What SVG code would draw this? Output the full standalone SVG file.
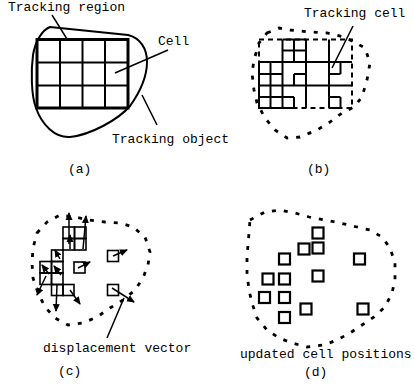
<svg xmlns="http://www.w3.org/2000/svg" width="414" height="391" viewBox="0 0 414 391">
<defs>
<marker id="ah" markerUnits="userSpaceOnUse" markerWidth="8" markerHeight="8" viewBox="0 0 8 8" refX="7" refY="4" orient="auto">
<path d="M0,0.5 L8,4 L0,7.5 Z" fill="#000"/>
</marker>
</defs>
<style>
text{font-family:"Liberation Mono","DejaVu Sans Mono",monospace;font-size:13px;fill:#000;}
.ln{stroke:#000;fill:none;stroke-width:2;}
.thk{stroke:#000;fill:none;stroke-width:3;}
.blob{stroke:#000;fill:none;stroke-width:2;}
.dblob{stroke:#000;fill:none;stroke-width:2.8;stroke-dasharray:4 8;}
.drect{stroke:#000;fill:none;stroke-width:2;stroke-dasharray:5 4;}
.cell{stroke:#000;fill:none;stroke-width:1.6;}
.ucell{stroke:#000;fill:none;stroke-width:2.2;}
.arr{stroke:#000;fill:none;stroke-width:1.5;marker-end:url(#ah);}
.lead{stroke:#000;fill:none;stroke-width:1.5;}
</style>

<!-- Panel (a) -->
<g id="panel-a">
<path class="blob" d="M50,27 L128,35 C140,38 147,48 147,62 C147,78 140,92 130,106 C118,120 90,135 70,137 C55,138 42,125 36,108 C31,95 31,70 33,55 C35,42 42,30 50,27 Z"/>
<g id="tracking-region">
<rect class="thk" x="37" y="39.5" width="91" height="68.5"/>
<line class="ln" x1="60" y1="39.5" x2="60" y2="108"/>
<line class="ln" x1="82.5" y1="39.5" x2="82.5" y2="108"/>
<line class="ln" x1="105" y1="39.5" x2="105" y2="108"/>
<line class="ln" x1="37" y1="62.5" x2="128" y2="62.5"/>
<line class="ln" x1="37" y1="85.5" x2="128" y2="85.5"/>
</g>
<text x="8" y="11">Tracking region</text>
<text x="158" y="45">Cell</text>
<text x="112" y="143">Tracking object</text>
<text x="68" y="173">(a)</text>
</g>

<!-- Panel (b) -->
<g id="panel-b">
<path class="dblob" d="M267,33 L279,28 L290,30 L310,32 L327,33 L344,37 L354,42 L365,48 L370,63 L367,80 L362,97 L354,107 L342,113 L330,122 L317,130 L300,137 L287,138 L275,130 L265,118 L257,103 L254,90 L252,73 L254,60 L259,43 Z"/>
<rect class="drect" x="259" y="39.5" width="93" height="68.5"/>
<g id="tracking-cells">
<line class="ln" x1="282.5" y1="39.5" x2="282.5" y2="108"/>
<line class="ln" x1="306" y1="39.5" x2="306" y2="108"/>
<line class="ln" x1="329" y1="39.5" x2="329" y2="108"/>
<line class="ln" x1="259" y1="62" x2="352" y2="62"/>
<line class="ln" x1="259" y1="85.5" x2="352" y2="85.5"/>
<line class="ln" x1="282.5" y1="39.5" x2="306" y2="39.5"/>
<line class="ln" x1="294" y1="39.5" x2="294" y2="62"/>
<line class="ln" x1="282.5" y1="50.5" x2="306" y2="50.5"/>
<line class="ln" x1="270.5" y1="62" x2="270.5" y2="108"/>
<line class="ln" x1="259" y1="74" x2="282.5" y2="74"/>
<line class="ln" x1="259" y1="97" x2="282.5" y2="97"/>
<line class="ln" x1="259" y1="62" x2="259" y2="108"/>
<line class="ln" x1="259" y1="108" x2="294" y2="108"/>
<line class="ln" x1="294" y1="74" x2="306" y2="74"/>
<line class="ln" x1="294" y1="74" x2="294" y2="85.5"/>
<line class="ln" x1="282.5" y1="97" x2="294" y2="97"/>
<line class="ln" x1="294" y1="97" x2="294" y2="108"/>
<line class="ln" x1="329" y1="74" x2="340.5" y2="74"/>
<line class="ln" x1="340.5" y1="62" x2="340.5" y2="74"/>
<line class="ln" x1="329" y1="97" x2="340.5" y2="97"/>
<line class="ln" x1="340.5" y1="97" x2="340.5" y2="108"/>
<line class="ln" x1="329" y1="108" x2="340.5" y2="108"/>
</g>
<text x="304" y="17">Tracking cell</text>
<text x="307" y="173">(b)</text>
</g>

<!-- Panel (c) -->
<g id="panel-c">
<path class="dblob" d="M37,233 L47,222 L60,215 L75,217 L88,220 L105,222 L120,223 L133,227 L145,237 L150,252 L148,265 L143,278 L135,290 L123,300 L110,308 L97,317 L83,323 L68,325 L55,318 L45,307 L38,293 L33,278 L32,263 L33,248 Z"/>
<g id="cells-c">
<rect class="cell" x="63" y="227" width="11.5" height="11.5"/>
<rect class="cell" x="74.5" y="227" width="11.5" height="11.5"/>
<rect class="cell" x="63" y="238.5" width="11.5" height="11.5"/>
<rect class="cell" x="74.5" y="238.5" width="11.5" height="11.5"/>
<rect class="cell" x="51.5" y="250" width="11.5" height="11.5"/>
<rect class="cell" x="40" y="261.5" width="11.5" height="11.5"/>
<rect class="cell" x="51.5" y="261.5" width="11.5" height="11.5"/>
<rect class="cell" x="40" y="273" width="11.5" height="11.5"/>
<rect class="cell" x="51.5" y="273" width="11.5" height="11.5"/>
<rect class="cell" x="51.5" y="284.5" width="11.5" height="11"/>
<rect class="cell" x="63" y="284.5" width="11" height="11"/>
<rect class="cell" x="74" y="262" width="11" height="11"/>
<rect class="cell" x="107.5" y="250.5" width="11" height="11"/>
<rect class="cell" x="107.5" y="284.5" width="11" height="11"/>
</g>
<g id="connectors-c">
<line class="arr" x1="69" y1="244" x2="69" y2="213"/>
<line class="arr" x1="83" y1="249" x2="86" y2="216"/>
<line class="arr" x1="70" y1="249" x2="70" y2="235"/>
<line class="arr" x1="60" y1="259" x2="55" y2="250"/>
<line class="arr" x1="49" y1="274" x2="42" y2="265"/>
<line class="arr" x1="61" y1="275" x2="54" y2="266"/>
<line class="arr" x1="46" y1="276" x2="37" y2="295"/>
<line class="arr" x1="57" y1="285" x2="56" y2="311"/>
<line class="arr" x1="70" y1="290" x2="80" y2="304"/>
<line class="arr" x1="78" y1="268" x2="90" y2="262"/>
<line class="arr" x1="113" y1="256" x2="127" y2="250"/>
<line class="arr" x1="112" y1="288" x2="134" y2="302"/>
<line class="lead" x1="107" y1="338" x2="124" y2="298"/>
</g>
<text x="43" y="352">displacement vector</text>
<text x="58" y="375">(c)</text>
</g>

<!-- Panel (d) -->
<g id="panel-d">
<path class="dblob" d="M250,220 L265,212 L280,210 L295,213 L309,217 L324,220 L340,223 L357,227 L370,230 L382,237 L390,248 L395,263 L395,280 L392,293 L385,307 L374,317 L362,325 L350,333 L337,340 L324,345 L307,347 L292,343 L279,338 L267,330 L257,318 L252,303 L249,290 L247,273 L247,257 L249,233 Z"/>
<g id="cells-d">
<rect class="ucell" x="312.5" y="227.5" width="11" height="11"/>
<rect class="ucell" x="298.5" y="243.5" width="11" height="11"/>
<rect class="ucell" x="312.5" y="242.5" width="11" height="11"/>
<rect class="ucell" x="279" y="253.5" width="11" height="11"/>
<rect class="ucell" x="354" y="253.5" width="11" height="11"/>
<rect class="ucell" x="262.5" y="273.5" width="11" height="11"/>
<rect class="ucell" x="279" y="273.5" width="11" height="11"/>
<rect class="ucell" x="312.5" y="270.5" width="11" height="11"/>
<rect class="ucell" x="259" y="292" width="11" height="11"/>
<rect class="ucell" x="279" y="292" width="11" height="11"/>
<rect class="ucell" x="300.5" y="303.5" width="11" height="11"/>
<rect class="ucell" x="357.5" y="303.5" width="11" height="11"/>
<rect class="ucell" x="279" y="312" width="11" height="11"/>
</g>
<text x="240" y="358">updated cell positions</text>
<text x="304" y="376">(d)</text>
</g>

<g id="connectors">
<line class="lead" x1="52" y1="15" x2="67" y2="39"/>
<line class="lead" x1="168" y1="50" x2="115" y2="73"/>
<line class="lead" x1="142" y1="95" x2="157" y2="125"/>
<line class="lead" x1="353" y1="26" x2="332" y2="68"/>
</g>
</svg>
